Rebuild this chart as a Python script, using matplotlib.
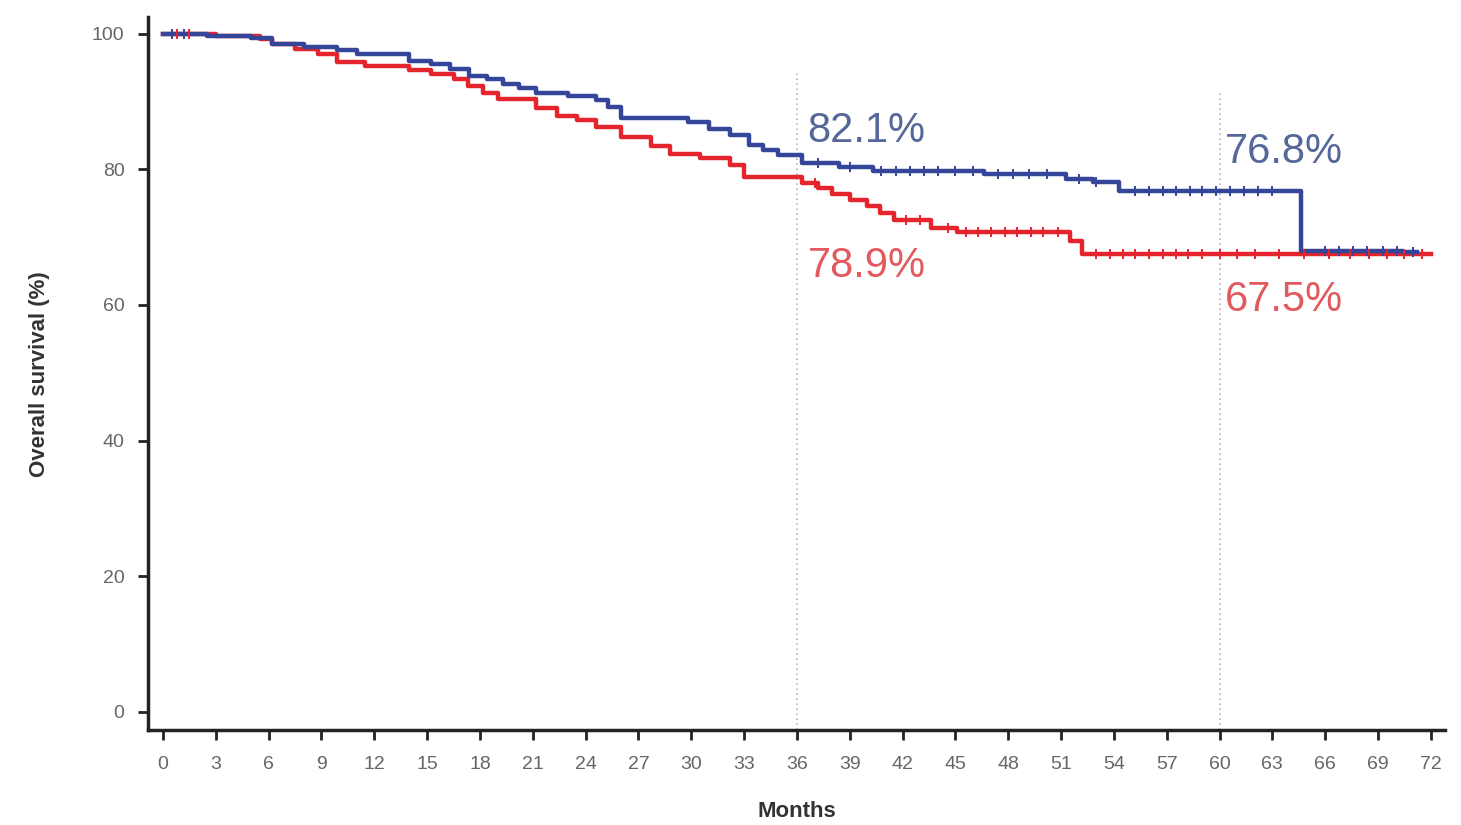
import matplotlib
matplotlib.use("Agg")
import matplotlib.pyplot as plt
import numpy as np

# ---- data ----
months_ticks = list(range(0, 73, 3))
surv_ticks = [0, 20, 40, 60, 80, 100]

blue_t = [0, 2.5, 5.0, 6.2, 8.0, 9.9, 11.0, 14.0, 15.2, 16.3, 17.4, 18.4, 19.3, 20.2,
          21.2, 23.0, 24.6, 25.3, 26.0, 29.8, 31.0, 32.2, 33.3, 34.1, 34.9, 36.3,
          38.4, 40.3, 46.6, 51.3, 52.8, 54.3, 64.6, 70.4]
blue_s = [100, 99.6, 99.3, 98.4, 98.0, 97.6, 97.0, 95.9, 95.5, 94.8, 93.8, 93.3, 92.6,
          92.0, 91.2, 90.8, 90.2, 89.2, 87.6, 86.9, 85.9, 85.0, 83.6, 82.8, 82.1, 80.9,
          80.3, 79.8, 79.3, 78.6, 78.1, 76.8, 68.0, 67.8]
blue_end = 71.2

red_t = [0, 3.0, 5.5, 6.2, 7.5, 8.8, 9.9, 11.5, 14.0, 15.2, 16.5, 17.3, 18.2, 19.0,
         21.2, 22.4, 23.5, 24.6, 26.0, 27.7, 28.8, 30.5, 32.2, 33.0, 36.3, 37.2, 38.0,
         39.0, 40.0, 40.7, 41.5, 43.6, 45.1, 51.5, 52.2]
red_s = [100, 99.7, 99.2, 98.4, 97.8, 97.0, 95.8, 95.2, 94.7, 94.1, 93.3, 92.3, 91.2,
         90.4, 89.1, 87.9, 87.2, 86.2, 84.7, 83.4, 82.3, 81.6, 80.6, 78.9, 78.0, 77.3,
         76.4, 75.4, 74.6, 73.6, 72.5, 71.4, 70.7, 69.5, 67.5]
red_end = 72.0

blue_cens = [0.5, 1.2, 37.2, 39.0, 40.8, 41.6, 42.4, 43.2, 44.0, 45.0, 46.0, 47.4,
             48.3, 49.2, 50.2, 52.0, 53.0, 55.2, 56.0, 56.8, 57.5, 58.3, 59.0, 59.8,
             60.6, 61.4, 62.2, 63.0, 66.0, 66.8, 67.6, 68.4, 69.3, 70.1, 71.0]
red_cens = [0.8, 1.5, 37.0, 42.2, 43.0, 44.6, 45.6, 46.3, 47.0, 47.8, 48.5, 49.3,
            50.0, 50.8, 53.0, 53.8, 54.5, 55.2, 56.0, 56.8, 57.5, 58.2, 59.0, 60.0,
            61.0, 62.0, 63.4, 64.8, 66.2, 67.4, 68.5, 69.5, 70.5, 71.5]

landmarks = [36, 60]
labels_blue = ["82.1%", "76.8%"]
labels_red = ["78.9%", "67.5%"]

BLUE = "#34459a"
RED = "#e4252d"
BLUE_TXT = "#56679a"
RED_TXT = "#e35a5e"


def step_val(t, s, x):
    idx = np.searchsorted(t, x, side="right") - 1
    return np.asarray(s)[idx]


fig = plt.figure(figsize=(14.61, 8.25), dpi=100)
ax = fig.add_axes([0.1013, 0.1152, 0.8877, 0.8638])

for t, s, end, cens, col in [(red_t, red_s, red_end, red_cens, RED),
                             (blue_t, blue_s, blue_end, blue_cens, BLUE)]:
    tt = list(t) + [end]
    ss = list(s) + [s[-1]]
    ax.step(tt, ss, where="post", color=col, lw=3.2, zorder=3)
    cy = step_val(t, s, np.array(cens))
    ax.plot(cens, cy, ls="none", marker="|", ms=7, mew=1.4, color=col, zorder=4)

# landmark dotted lines
ax.vlines(landmarks[0], -2.65, 94.5, colors="#b5b5b5", linestyles=(0, (1, 2)), lw=1.2, zorder=1)
ax.vlines(landmarks[1], -2.65, 91.6, colors="#b5b5b5", linestyles=(0, (1, 2)), lw=1.2, zorder=1)

lab_kw = dict(fontsize=30, family="Liberation Sans", va="center", ha="left")
ax.text(36.6, 85.7, labels_blue[0], color=BLUE_TXT, **lab_kw)
ax.text(36.6, 65.8, labels_red[0], color=RED_TXT, **lab_kw)
ax.text(60.3, 82.5, labels_blue[1], color=BLUE_TXT, **lab_kw)
ax.text(60.3, 60.7, labels_red[1], color=RED_TXT, **lab_kw)

ax.set_xlim(-0.85, 72.8)
ax.set_ylim(-2.65, 102.4)
ax.set_xticks(months_ticks)
ax.set_yticks(surv_ticks)
for sp in ["top", "right"]:
    ax.spines[sp].set_visible(False)
for sp in ["left", "bottom"]:
    ax.spines[sp].set_linewidth(2.5)
    ax.spines[sp].set_color("#222222")
ax.tick_params(axis="both", direction="out", length=7, width=2, color="#222222",
               labelcolor="#666666")
ax.tick_params(axis="x", labelsize=14, pad=12)
ax.tick_params(axis="y", labelsize=14, pad=10)
for lab in ax.get_xticklabels() + ax.get_yticklabels():
    lab.set_family(["Liberation Sans Narrow", "Liberation Sans"])

ax.set_xlabel("Months", fontsize=16, fontweight="bold", color="#333333",
              family=["Liberation Sans Narrow", "Liberation Sans"], labelpad=20)
ax.set_ylabel("Overall survival (%)", fontsize=16, fontweight="bold", color="#333333",
              family=["Liberation Sans Narrow", "Liberation Sans"], labelpad=30)

fig.savefig("out.png", dpi=100)
